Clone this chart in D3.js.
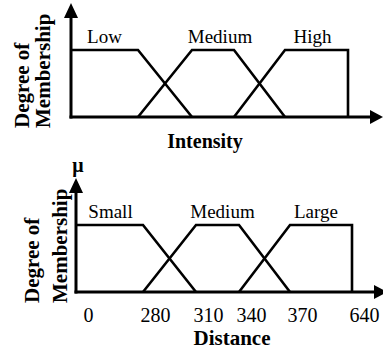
<!DOCTYPE html>
<html>
<head>
<meta charset="utf-8">
<script src="https://cdn.jsdelivr.net/npm/d3@7"></script>
<style>
  body { margin: 0; background: #fff; }
  svg { display: block; }
  text { font-family: "Liberation Serif", "Times New Roman", serif; fill: #000; }
</style>
</head>
<body>
<svg id="chart" width="383" height="350"></svg>
<script>
// fuzzy set breakpoints (Distance), shared shape for both panels
const breakpoints = [0, 280, 310, 340, 370, 640];
const tickLabels = ['0', '280', '310', '340', '370', '640'];

const intensitySets = ['Low', 'Medium', 'High'];
const distanceSets = ['Small', 'Medium', 'Large'];

// membership points [value, mu] for low / medium / high sets
const lowPts = [[0, 1], [280, 1], [310, 0]];
const midPts = [[280, 0], [310, 1], [340, 1], [370, 0]];
const highPts = [[340, 0], [370, 1], [640, 1], [640, 0]];
const plateaus = [[0, 280], [310, 340], [370, 640]];

const svg = d3.select('#chart');

function panel(opt){
  const x = d3.scaleLinear().domain(breakpoints).range(opt.range);
  const y = d3.scaleLinear().domain([0, 1]).range([opt.base, opt.top]);
  const g = svg.append('g');
  const x0 = x(0);

  // axes with arrow heads
  g.append('line').attr('x1', x0).attr('x2', x0)
    .attr('y1', opt.arrowTop + 12).attr('y2', opt.base + 1.5)
    .attr('stroke', '#000').attr('stroke-width', 3);
  g.append('path')
    .attr('d', `M${x0},${opt.arrowTop} L${x0 - 7},${opt.arrowTop + 15} L${x0 + 7},${opt.arrowTop + 15} Z`);
  g.append('line').attr('x1', x0 - 1.5).attr('x2', opt.arrowRight - 12)
    .attr('y1', opt.base).attr('y2', opt.base)
    .attr('stroke', '#000').attr('stroke-width', 3);
  g.append('path')
    .attr('d', `M${opt.arrowRight},${opt.base} L${opt.arrowRight - 13},${opt.base - 7} L${opt.arrowRight - 13},${opt.base + 7} Z`);

  // membership functions
  const line = d3.line().x(d => x(d[0])).y(d => y(d[1]));
  g.selectAll('path.mf').data([lowPts, midPts, highPts]).join('path')
    .attr('class', 'mf')
    .attr('d', line)
    .attr('fill', 'none').attr('stroke', '#000').attr('stroke-width', 2.6)
    .attr('stroke-linejoin', 'miter');

  // set names
  g.selectAll('text.set').data(opt.sets).join('text')
    .attr('class', 'set')
    .attr('x', (d, i) => (x(plateaus[i][0]) + x(plateaus[i][1])) / 2 + opt.labelShift[i])
    .attr('y', y(1) - 7)
    .attr('text-anchor', 'middle')
    .style('font-size', '19px')
    .text(d => d);

  // y title (two rotated lines)
  const yt = g.append('text')
    .attr('transform', `translate(0,${opt.base + 11}) rotate(-90)`)
    .style('font-size', '21px').style('font-weight', 'bold');
  yt.append('tspan').attr('x', 0).attr('y', opt.yTitle[0]).text('Degree of');
  yt.append('tspan').attr('x', 0).attr('y', opt.yTitle[1]).text('Membership');

  return {g, x, y};
}

// top panel: Intensity
const topPanel = panel({
  range: [71, 138, 192, 234, 285, 348],
  base: 117, top: 50, arrowTop: 3, arrowRight: 383,
  sets: intensitySets, labelShift: [0, 7, -4],
  yTitle: [29, 50]
});
topPanel.g.append('text')
  .attr('x', 205).attr('y', 148)
  .attr('text-anchor', 'middle')
  .style('font-size', '20px').style('font-weight', 'bold')
  .text('Intensity');

// bottom panel: Distance
const botPanel = panel({
  range: [76, 143, 196, 239, 290, 352],
  base: 292, top: 225, arrowTop: 178, arrowRight: 387,
  sets: distanceSets, labelShift: [1, 5, -5],
  yTitle: [39, 67]
});

const xAxis = d3.axisBottom(botPanel.x)
  .tickValues(breakpoints)
  .tickFormat((d, i) => tickLabels[i])
  .tickSize(0).tickPadding(16);
const ax = botPanel.g.append('g')
  .attr('transform', `translate(12,292)`)
  .call(xAxis);
ax.select('.domain').remove();
ax.selectAll('text')
  .attr('fill', '#000')
  .style('font-family', '"Liberation Serif", serif')
  .style('font-size', '20px');

botPanel.g.append('text')
  .attr('x', 232).attr('y', 345)
  .attr('text-anchor', 'middle')
  .style('font-size', '21px').style('font-weight', 'bold')
  .text('Distance');

// mu symbol above the lower axis
botPanel.g.append('text')
  .attr('x', 78).attr('y', 172)
  .attr('text-anchor', 'middle')
  .style('font-size', '20px').style('font-weight', 'bold')
  .text('\u03bc');
</script>
</body>
</html>
